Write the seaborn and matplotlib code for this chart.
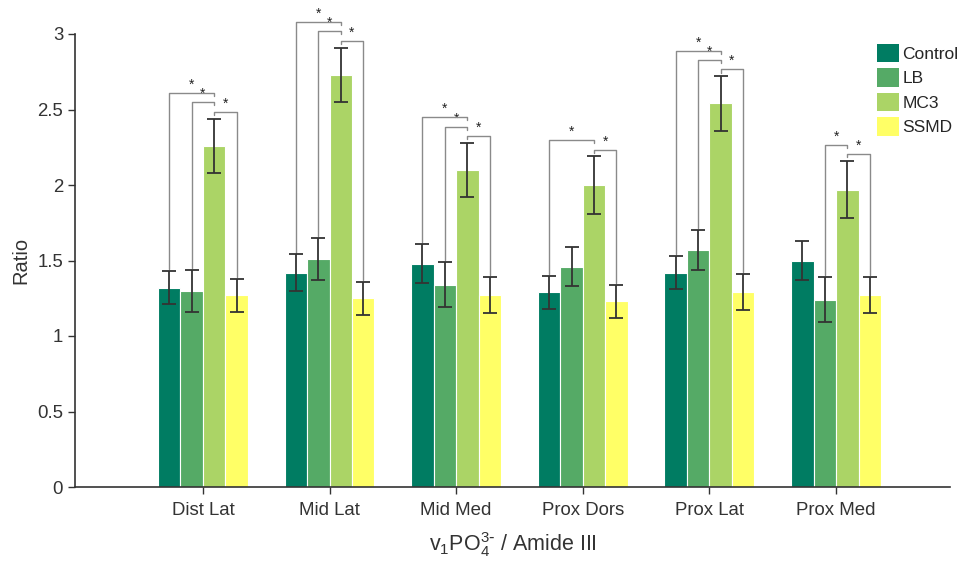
import numpy as np
import pandas as pd
import matplotlib
matplotlib.use("Agg")
import matplotlib.pyplot as plt
import seaborn as sns

categories = ["Dist Lat", "Mid Lat", "Mid Med", "Prox Dors", "Prox Lat", "Prox Med"]
groups = ["Control", "LB", "MC3", "SSMD"]
control = [1.32, 1.42, 1.48, 1.29, 1.42, 1.50]
lb      = [1.30, 1.51, 1.34, 1.46, 1.57, 1.24]
mc3     = [2.26, 2.73, 2.10, 2.00, 2.54, 1.97]
ssmd    = [1.27, 1.25, 1.27, 1.23, 1.29, 1.27]
control_err = [0.11, 0.12, 0.13, 0.11, 0.11, 0.13]
lb_err      = [0.14, 0.14, 0.15, 0.13, 0.13, 0.15]
mc3_err     = [0.18, 0.18, 0.18, 0.19, 0.18, 0.19]
ssmd_err    = [0.11, 0.11, 0.12, 0.11, 0.12, 0.12]
# significance comparisons (indices into groups) per category
comparisons = [
    [(0, 2), (1, 2), (2, 3)],
    [(0, 2), (1, 2), (2, 3)],
    [(0, 2), (1, 2), (2, 3)],
    [(0, 2), (2, 3)],
    [(0, 2), (1, 2), (2, 3)],
    [(1, 2), (2, 3)],
]
colors = ["#007c62", "#55aa66", "#abd466", "#ffff66"]

values = [control, lb, mc3, ssmd]
errs = [control_err, lb_err, mc3_err, ssmd_err]
rows = []
for g, vals, ers in zip(groups, values, errs):
    for c, v, e in zip(categories, vals, ers):
        rows.append({"Region": c, "Group": g, "Ratio": v, "Err": e})
df = pd.DataFrame(rows)

sns.set_style("ticks")
plt.rcParams["font.family"] = ["Liberation Sans", "DejaVu Sans"]
plt.rcParams["mathtext.default"] = "regular"

fig = plt.figure(figsize=(9.58, 5.61), dpi=100)
ax = fig.add_axes([75/958, 1-487/561, (950-75)/958, (487-34)/561])

sns.barplot(data=df, x="Region", y="Ratio", hue="Group", order=categories,
            hue_order=groups, palette=colors, saturation=1, width=0.71,
            errorbar=None, edgecolor="white", linewidth=0.8, ax=ax, legend=True)

# error bars from patch positions
centers = {}
tops = {}
bars = [p for p in ax.patches if p.get_height() > 0]
for gi, g in enumerate(groups):
    for ci, c in enumerate(categories):
        p = bars[gi * len(categories) + ci]
        x = p.get_x() + p.get_width() / 2
        centers[(ci, gi)] = x
        v = values[gi][ci]
        e = errs[gi][ci]
        tops[(ci, gi)] = v + e
        ax.errorbar(x, v, yerr=e, color="#333333", lw=1.3, capsize=4.8,
                    capthick=1.3, zorder=5)

# significance brackets
for ci, comps in enumerate(comparisons):
    ref = max(tops[(ci, gi)] for gi in range(4))
    nlev = len(comps)
    for k, (i, j) in enumerate(comps):
        level = nlev - 1 - k
        h = ref + 0.045 + level * 0.062
        xi, xj = centers[(ci, i)], centers[(ci, j)]
        def leg_bottom(gi):
            if tops[(ci, gi)] >= ref - 1e-9:
                return h - 0.02
            return tops[(ci, gi)] + 0.012
        ax.plot([xi, xi, xj, xj], [leg_bottom(i), h, h, leg_bottom(j)],
                color="#8a8a8a", lw=1.0, clip_on=False, zorder=4)
        ax.text((xi + xj) / 2, h + 0.008, "*", ha="center", va="bottom",
                fontsize=10, color="#222222", clip_on=False)

ax.set_xlim(-1.01, 5.9)
ax.set_ylim(0, 3)
ax.set_yticks([0, 0.5, 1, 1.5, 2, 2.5, 3])
ax.set_yticklabels(["0", "0.5", "1", "1.5", "2", "2.5", "3"])
ax.tick_params(axis="both", labelsize=13.4, colors="#333333", length=5,
               width=1, labelcolor="#333333")
ax.tick_params(axis="x", pad=6)
for s in ["top", "right"]:
    ax.spines[s].set_visible(False)
for s in ["left", "bottom"]:
    ax.spines[s].set_color("#333333")
    ax.spines[s].set_linewidth(1.2)

ax.set_ylabel("Ratio", fontsize=14.5, color="#333333", labelpad=5)
ax.set_xlabel(r"v$_1$PO$_4^{3\text{-}}$ / Amide III", fontsize=15.5,
              color="#333333", labelpad=8)

leg = ax.legend(loc="upper left", bbox_to_anchor=(877/958, 1-44/561),
                bbox_transform=fig.transFigure, frameon=False, fontsize=12.5,
                handlelength=1.25, handleheight=1.25, handletextpad=0.2,
                labelspacing=0.35, borderpad=0, borderaxespad=0)
for h in leg.legend_handles:
    h.set_edgecolor("none")

fig.savefig("out.png", dpi=100)
